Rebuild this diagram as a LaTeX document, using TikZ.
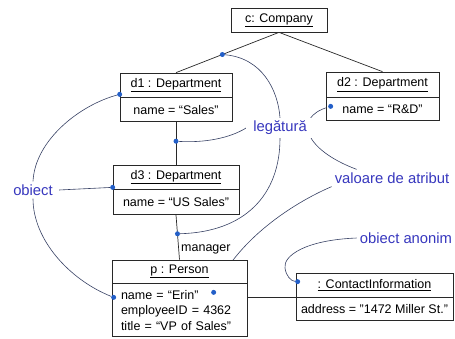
\documentclass[tikz,border=0pt]{standalone}
\usepackage{fontspec}
\setmainfont{Liberation Sans}
\usetikzlibrary{backgrounds,calc}
\definecolor{annblue}{RGB}{55,55,190}
\definecolor{dotblue}{RGB}{35,95,200}
\definecolor{lnk}{RGB}{40,40,40}
\definecolor{ann}{RGB}{55,65,100}
\begin{document}
\begin{tikzpicture}[x=1pt,y=-1pt,
 box/.style={draw=lnk, line width=0.7pt, fill=white, inner sep=0pt, font=\fontsize{12.5}{15.5}\selectfont},
 lbl/.style={fill=white, text=annblue, inner sep=3pt, font=\fontsize{14.8}{17}\selectfont},
 dotb/.style={circle, fill=dotblue, inner sep=0pt, minimum size=5pt},
 conn/.style={draw=lnk, line width=0.7pt},
 annl/.style={draw=ann, line width=0.6pt}]
\useasboundingbox (0,0) rectangle (455,338);
% object boxes
\node[box, minimum width=96, minimum height=24] (c) at (279,20) {\underline{c: Company}};
\node[box, minimum width=112, minimum height=24] (d1) at (176,85) {\underline{d1 : Department}};
\node[box, minimum width=112, minimum height=24, anchor=north] (d1b) at (d1.south) {name = “Sales”};
\node[box, minimum width=113, minimum height=25] (d2) at (382.5,84.5) {\underline{d2 : Department}};
\node[box, minimum width=113, minimum height=23, anchor=north] (d2b) at (d2.south) {name = “R\&D”};
\node[box, minimum width=126, minimum height=24] (d3) at (176,177) {\underline{d3 : Department}};
\node[box, minimum width=126, minimum height=25, anchor=north] (d3b) at (d3.south) {name = “US Sales”};
\node[box, minimum width=135, minimum height=23] (p) at (179.5,271.5) {\underline{p : Person}};
\node[box, minimum width=135, minimum height=53, text width=117, inner xsep=9pt, align=left, anchor=north] (pb) at (p.south) {name = “Erin”\\employeeID = 4362\\title = “VP of Sales”};
\node[box, minimum width=157, minimum height=24] (ci) at (374.5,285) {\underline{: ContactInformation}};
\node[box, minimum width=157, minimum height=23, anchor=north] (cib) at (ci.south) {address = "1472 Miller St."};
\node[anchor=west, inner sep=0pt, font=\fontsize{12.5}{15}\selectfont] (mgr) at (181,249) {manager};
% annotation labels
\node[lbl, inner xsep=7pt] (leg) at (280,128) {legătură};
\node[lbl] (val) at (392,178) {valoare de atribut};
\node[lbl] (anon) at (406,238) {obiect anonim};
\node[lbl, inner xsep=6pt] (obj) at (33,190) {obiect};
% dots
\node[dotb] (dl1) at ($(c.south)!0.55!(d1.north)$) {};
\node[dotb] (dl2) at ($(d1b.south)!0.45!(d3.north)$) {};
\node[dotb] (dl3) at ($(d3b.south)!0.42!(p.north)$) {};
\node[dotb] (do1) at ([yshift=3pt]d1.south west) {};
\node[dotb] (do3) at ([yshift=2pt]d3.south west) {};
\node[dotb] (dop) at ([xshift=2pt,yshift=-14pt]pb.north west) {};
\node[dotb] (dpv) at ([xshift=102pt,yshift=-9pt]pb.north west) {};
\node[dotb] (dd2) at ([xshift=5pt,yshift=-9pt]d2b.north west) {};
\node[dotb] (dci) at ([xshift=2pt,yshift=-9pt]ci.north west) {};
\begin{pgfonlayer}{background}
% links
\draw[conn] (c.south) -- (d1.north);
\draw[conn] (c.south) -- (d2.north);
\draw[conn] (d1b.south) -- (d3.north);
\draw[conn] (d3b.south) -- (p.north);
\draw[conn] (pb.east |- ci.south) -- (ci.south west);
% annotation lines
\draw[annl] (dl1) .. controls (262,58) and (278,90) .. (leg.north);
\draw[annl] (leg.south) .. controls (280,195) and (245,232) .. (dl3);
\draw[annl] (dl2) .. controls (205,143) and (230,138) .. (leg.west);
\draw[annl] (dd2) .. controls (292,118) and (305,150) .. ([xshift=25pt]val.north west);
\draw[annl] (val.south west) .. controls (300,200) and (240,235) .. (dpv);
\draw[annl] (anon.west) .. controls (305,240) and (283,256) .. (285,268) .. controls (286,276) and (291,281) .. (dci);
\draw[annl] (obj.east) -- (do3);
\draw[annl] (do1) .. controls (80,105) and (35,140) .. (obj.north);
\draw[annl] (obj.south) .. controls (33,240) and (70,280) .. (dop);
\end{pgfonlayer}
\end{tikzpicture}
\end{document}
